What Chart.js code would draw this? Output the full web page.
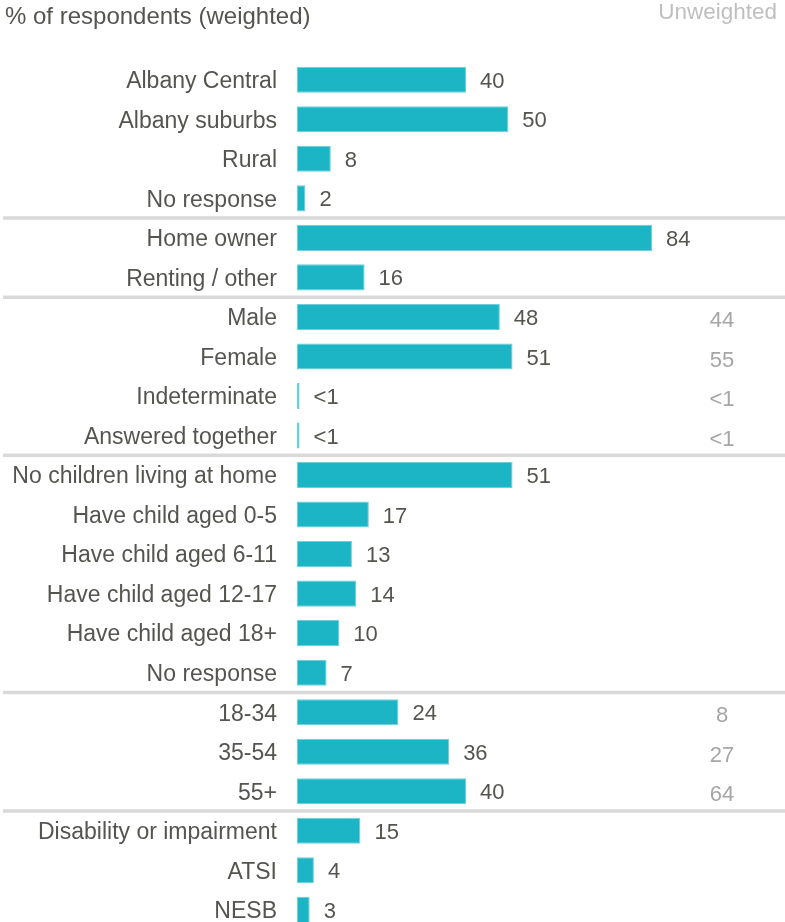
<!DOCTYPE html>
<html>
<head>
<meta charset="utf-8">
<script src="https://cdn.jsdelivr.net/npm/chart.js@4/dist/chart.umd.min.js"></script>
<style>
  html, body { margin: 0; padding: 0; background: #fff; overflow: hidden; }
  #wrap { width: 785px; height: 922px; overflow: hidden; }
</style>
</head>
<body>
<div id="wrap"><canvas id="chart" width="785" height="940"></canvas></div>
<script>
const categories = [
  "Albany Central", "Albany suburbs", "Rural", "No response",
  "Home owner", "Renting / other",
  "Male", "Female", "Indeterminate", "Answered together",
  "No children living at home", "Have child aged 0-5", "Have child aged 6-11",
  "Have child aged 12-17", "Have child aged 18+", "No response",
  "18-34", "35-54", "55+",
  "Disability or impairment", "ATSI", "NESB"
];
const weighted = [40, 50, 8, 2, 84, 16, 48, 51, 0.6, 0.6, 51, 17, 13, 14, 10, 7, 24, 36, 40, 15, 4, 3];
const weightedLabels = ["40", "50", "8", "2", "84", "16", "48", "51", "<1", "<1", "51", "17", "13", "14", "10", "7", "24", "36", "40", "15", "4", "3"];
const unweightedLabels = [null, null, null, null, null, null, "44", "55", "<1", "<1", null, null, null, null, null, null, "8", "27", "64", null, null, null];
const groupEnds = [3, 5, 9, 15, 18];

const FONT = "'Liberation Sans', Arial, sans-serif";
const TEXT = "#555550";

const overlay = {
  id: "overlay",
  afterDatasetsDraw(chart) {
    const ctx = chart.ctx;
    const x = chart.scales.x;
    const y = chart.scales.y;
    ctx.save();

    // group separators
    ctx.strokeStyle = "#d9d9d9";
    ctx.lineWidth = 3.5;
    groupEnds.forEach(i => {
      const yy = (y.getPixelForValue(i) + y.getPixelForValue(i + 1)) / 2;
      ctx.beginPath();
      ctx.moveTo(3, yy);
      ctx.lineTo(785, yy);
      ctx.stroke();
    });

    // weighted value labels
    ctx.font = "22px " + FONT;
    ctx.fillStyle = TEXT;
    ctx.textAlign = "left";
    ctx.textBaseline = "middle";
    weighted.forEach((v, i) => {
      ctx.fillText(weightedLabels[i], x.getPixelForValue(v) + 14, y.getPixelForValue(i) + 2);
    });

    // unweighted column
    ctx.fillStyle = "#a6a6a6";
    ctx.textAlign = "center";
    unweightedLabels.forEach((t, i) => {
      if (t) ctx.fillText(t, 722, y.getPixelForValue(i) + 4);
    });

    // headers
    ctx.font = "24px " + FONT;
    ctx.fillStyle = TEXT;
    ctx.textAlign = "left";
    ctx.fillText("% of respondents (weighted)", 5, 17);
    ctx.font = "22.5px " + FONT;
    ctx.fillStyle = "#bfbfbf";
    ctx.textAlign = "right";
    ctx.fillText("Unweighted", 777, 13);

    ctx.restore();
  }
};

new Chart(document.getElementById("chart").getContext("2d"), {
  type: "bar",
  data: {
    labels: categories,
    datasets: [{
      data: weighted,
      backgroundColor: "#1bb5c6",
      borderColor: "#6fcfda",
      borderWidth: 1,
      borderSkipped: false,
      barPercentage: 0.66,
      categoryPercentage: 1
    }]
  },
  options: {
    indexAxis: "y",
    responsive: false,
    animation: false,
    layout: { padding: { top: 60, bottom: 10.4, right: 65.4, left: 0 } },
    plugins: { legend: { display: false }, tooltip: { enabled: false } },
    scales: {
      x: { display: false, min: 0, max: 100 },
      y: {
        grid: { display: false },
        border: { display: false },
        afterFit(scale) {
          scale.width = 297;
          scale.paddingTop = 0;
          scale.paddingBottom = 0;
        },
        ticks: {
          color: TEXT,
          font: { family: FONT, size: 23 },
          padding: 12,
          labelOffset: 2,
          autoSkip: false
        }
      }
    }
  },
  plugins: [overlay]
});
</script>
</body>
</html>
